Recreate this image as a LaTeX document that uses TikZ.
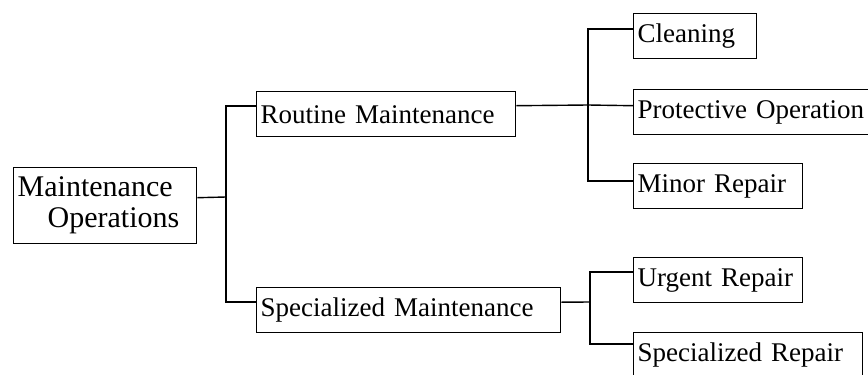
\documentclass[tikz,border=0pt]{standalone}
\usepackage{fontspec}
\setmainfont{Liberation Serif}

\tikzset{
	box/.style={draw, line width=1.4pt, anchor=north west, inner xsep=4pt, inner ysep=0pt,
		minimum height=45pt, align=left, font=\fontsize{27}{30}\selectfont},
	link/.style={line width=1.4pt},
	trunk/.style={line width=2.2pt}
}

\begin{document}
\begin{tikzpicture}[x=1pt, y=-1pt]
	\useasboundingbox (0,0) rectangle (868,375);

	\node[box, text width=175pt, minimum height=76pt, font=\fontsize{30}{31}\selectfont] (ops) at (13,167) {Maintenance\\\hspace*{30pt}Operations};

	\node[box, text width=251pt] (rtn) at (256,91) {Routine Maintenance};
	\node[box, text width=296pt] (spc) at (256,287) {Specialized Maintenance};

	\node[box, text width=115pt] (cln) at (633,13) {Cleaning};
	\node[box, text width=250pt] (prt) at (633,89) {Protective Operation};
	\node[box, text width=161pt] (mnr) at (633,163) {Minor Repair};
	\node[box, text width=161pt] (urg) at (633,257) {Urgent Repair};
	\node[box, text width=221pt] (srp) at (633,332) {Specialized Repair};

	\coordinate (j1) at (226,197);
	\coordinate (j2) at (588,105);
	\coordinate (j3) at (590,302);

	\draw[link] ([yshift=8pt]ops.east) -- (j1);
	\draw[trunk] ([yshift=8.5pt]rtn.west) -| (j1) |- ([yshift=8pt]spc.west);

	\draw[link] ([yshift=8.5pt]rtn.east) -- (j2) -- ([yshift=6.5pt]prt.west);
	\draw[trunk] ([yshift=7pt]cln.west) -| (j2) |- ([yshift=5pt]mnr.west);

	\draw[link] ([yshift=8pt]spc.east) -- (j3);
	\draw[trunk] ([yshift=8.5pt]urg.west) -| (j3) |- ([yshift=11.5pt]srp.west);
\end{tikzpicture}
\end{document}
